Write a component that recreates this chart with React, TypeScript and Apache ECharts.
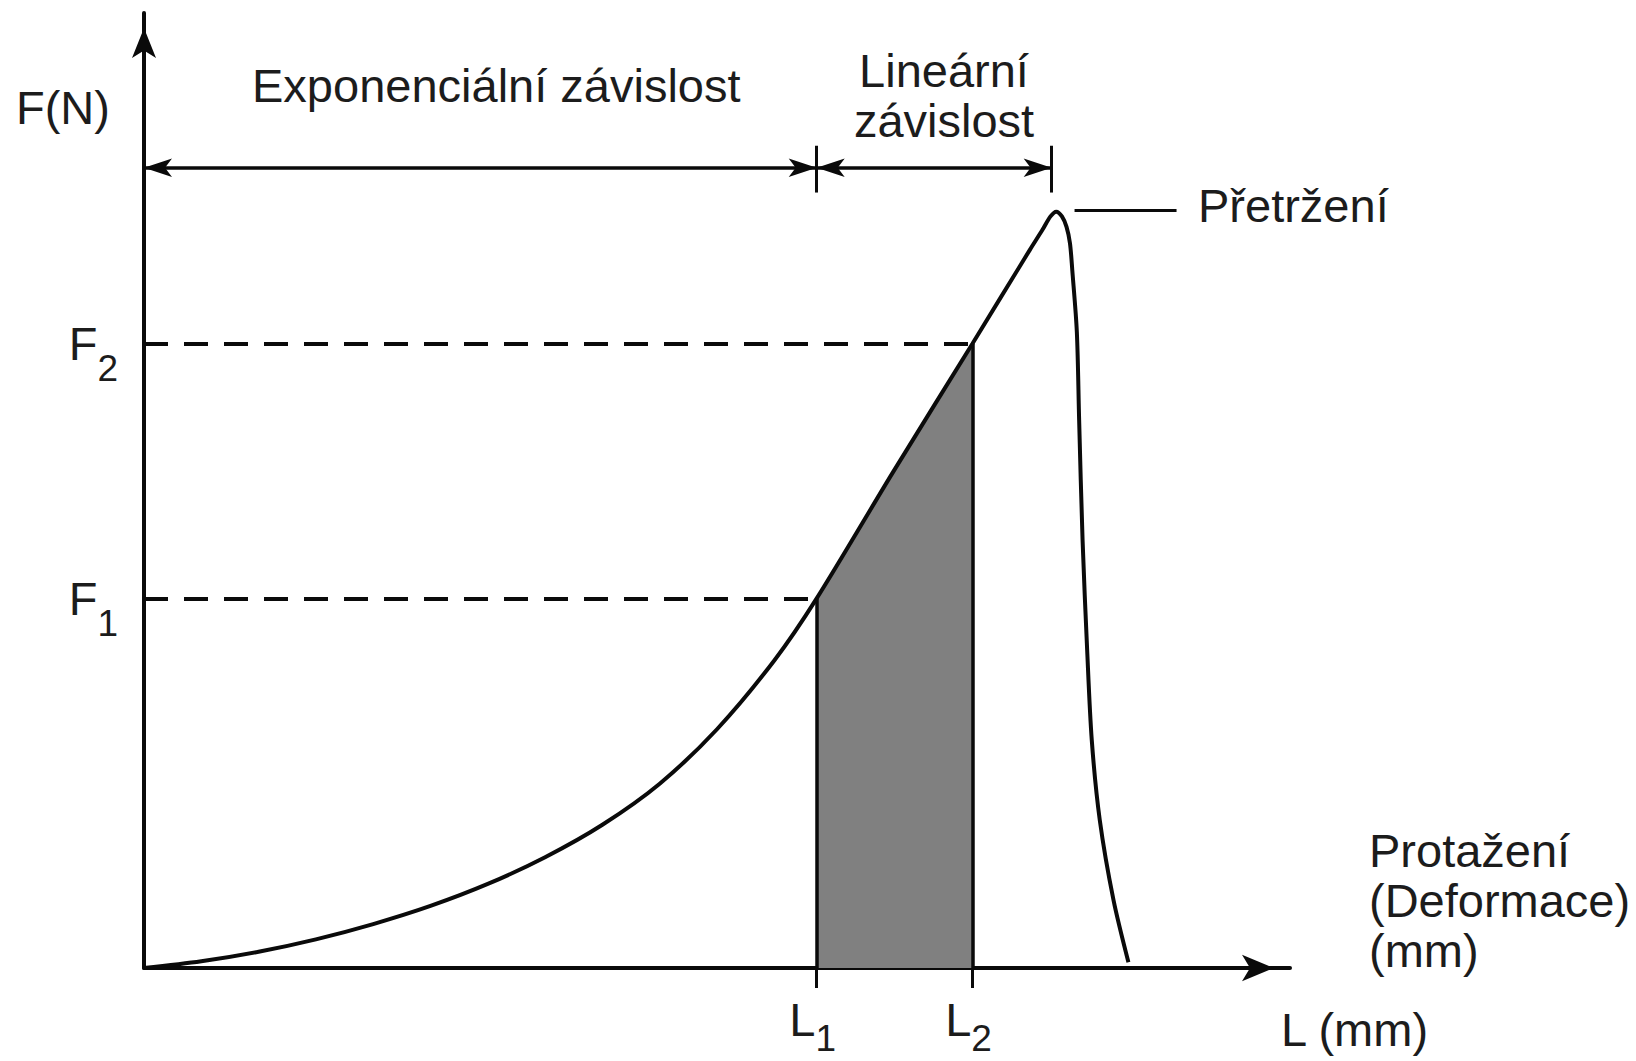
import React, { useEffect, useRef } from 'react';
import * as echarts from 'echarts';

// ---- data (abstract units: L 0..100, F 0..100) ----
const L1 = 58.7;
const L2 = 72.3;
const F1 = 38.7;
const F2 = 65.4;
const BREAK_X = 79.2; // end of linear region / rupture
const curveL = [0, 5, 10, 15, 20, 25, 30, 35, 40, 45, 50, 55, 58.7, 65.4, 72.3, 77.3, 78.4, 79.1, 79.6, 80.1, 80.5, 80.8, 81.0, 81.4, 81.6, 81.9, 82.3, 82.7, 83.4, 84.6, 85.9];
const curveF = [0, 0.7, 1.7, 3.0, 4.6, 6.5, 8.8, 11.6, 15.0, 19.3, 25.0, 32.2, 38.7, 52.0, 65.4, 75.2, 77.3, 78.7, 79.2, 78.7, 77.6, 75.9, 73.1, 66.6, 57.4, 44.8, 33.3, 23.9, 15.5, 7.1, 0.6];
const xTickValues = [L1, L2];
const xTickSubs = ['1', '2'];
const yTickValues = [F1, F2];
const yTickSubs = ['1', '2'];
const DIM_Y = 83.8;
const DIM_TICK_LOW = 81.2;
const DIM_TICK_HIGH = 86.1;
const LEADER_X0 = 81.2;
const LEADER_X1 = 90.1;
const LEADER_Y = 79.3;

const FONT = '"Liberation Sans", Arial, Helvetica, sans-serif';
const INK = '#0a0a0a';
const TXT = '#1c1c1c';
const FS = 47;

export default function App() {
  const ref = useRef<HTMLDivElement>(null);
  useEffect(() => {
    if (!ref.current) return;
    const chart = echarts.init(ref.current, null, { renderer: 'svg' });
    const curve = curveL.map((x, i) => [x, curveF[i]]);
    const solid = (w: number) => ({ color: INK, width: w, type: 'solid' });
    const dashed = { color: INK, width: 4, type: [24, 16] };
    const richX = {
      b: { fontSize: FS, lineHeight: FS, fontFamily: FONT, color: TXT },
      s: { fontSize: 37, lineHeight: 37, fontFamily: FONT, color: TXT, padding: [38, 8, 0, 0] },
    };
    const richY = {
      b: { fontSize: FS, lineHeight: FS, fontFamily: FONT, color: TXT },
      s: { fontSize: 37, lineHeight: 37, fontFamily: FONT, color: TXT, padding: [50, 0, 0, 0] },
    };
    const txt = (text: string, x: number, y: number, align = 'left', lh = 50) => ({
      type: 'text',
      x,
      y,
      silent: true,
      style: {
        text,
        font: `${FS}px ${FONT}`,
        fontSize: FS,
        fontFamily: FONT,
        fill: TXT,
        align,
        textAlign: align,
        verticalAlign: 'middle',
        textVerticalAlign: 'middle',
        lineHeight: lh,
      },
    });
    const option: any = {
      animation: false,
      backgroundColor: '#ffffff',
      grid: { left: 144, right: 346, top: 13, bottom: 93, containLabel: false, outerBoundsMode: 'none' },
      xAxis: {
        type: 'value',
        min: 0,
        max: 100,
        axisLine: {
          show: true,
          onZero: false,
          symbol: ['none', 'arrow'],
          symbolSize: [20, 32],
          symbolOffset: [0, -16],
          lineStyle: { color: INK, width: 4 },
        },
        axisTick: { show: true, customValues: xTickValues, length: 20, lineStyle: { color: INK, width: 3 } },
        axisLabel: {
          show: true,
          customValues: xTickValues,
          margin: 28,
          formatter: (v: number) => {
            const i = xTickValues.findIndex((t) => Math.abs(t - v) < 1e-6);
            return `{b|L}{s|${xTickSubs[i < 0 ? 0 : i]}}`;
          },
          rich: richX,
        },
        splitLine: { show: false },
      },
      yAxis: {
        type: 'value',
        min: 0,
        max: 100,
        axisLine: {
          show: true,
          onZero: false,
          symbol: ['none', 'arrow'],
          symbolSize: [18, 30],
          symbolOffset: [0, -15],
          lineStyle: { color: INK, width: 4 },
        },
        axisTick: { show: false },
        axisLabel: {
          show: true,
          customValues: yTickValues,
          margin: 26,
          formatter: (v: number) => {
            const i = yTickValues.findIndex((t) => Math.abs(t - v) < 1e-6);
            return `{b|F}{s|${yTickSubs[i < 0 ? 0 : i]}}`;
          },
          rich: richY,
        },
        splitLine: { show: false },
      },
      series: [
        {
          type: 'line',
          name: 'area',
          data: [[L1, F1], [L2, F2]],
          symbol: 'none',
          lineStyle: { width: 0 },
          areaStyle: { color: '#808080', opacity: 1 },
          z: 1,
          silent: true,
          markLine: {
            silent: true,
            symbol: 'none',
            label: { show: false },
            data: [
              [{ coord: [0, F1], lineStyle: dashed }, { coord: [L1, F1] }],
              [{ coord: [0, F2], lineStyle: dashed }, { coord: [L2, F2] }],
              [{ coord: [L1, 0], lineStyle: solid(3.5) }, { coord: [L1, F1] }],
              [{ coord: [L2, 0], lineStyle: solid(3.5) }, { coord: [L2, F2] }],
              [
                { coord: [0, DIM_Y], lineStyle: solid(3.5), symbol: 'arrow', symbolSize: [14, 28] },
                { coord: [L1, DIM_Y], symbol: 'arrow', symbolSize: [14, 28] },
              ],
              [
                { coord: [L1, DIM_Y], lineStyle: solid(3.5), symbol: 'arrow', symbolSize: [14, 28] },
                { coord: [BREAK_X, DIM_Y], symbol: 'arrow', symbolSize: [14, 28] },
              ],
              [{ coord: [L1, DIM_TICK_LOW], lineStyle: solid(3) }, { coord: [L1, DIM_TICK_HIGH] }],
              [{ coord: [BREAK_X, DIM_TICK_LOW], lineStyle: solid(3) }, { coord: [BREAK_X, DIM_TICK_HIGH] }],
              [{ coord: [LEADER_X0, LEADER_Y], lineStyle: solid(3) }, { coord: [LEADER_X1, LEADER_Y] }],
            ],
          },
        },
        {
          type: 'line',
          name: 'curve',
          data: curve,
          symbol: 'none',
          smooth: 0.3,
          lineStyle: { color: INK, width: 4 },
          z: 3,
          silent: true,
        },
      ],
      graphic: [
        txt('F(N)', 16, 107),
        txt('Exponenciální závislost', 252, 85),
        txt('Lineární\nzávislost', 944, 95, 'center'),
        txt('Přetržení', 1198, 205),
        txt('Protažení\n(Deformace)\n(mm)', 1369, 900),
        txt('L (mm)', 1281, 1029),
      ],
    };
    chart.setOption(option);
    return () => chart.dispose();
  }, []);
  return (
    <div
      ref={ref}
      style={{ position: 'absolute', left: 0, top: 0, width: 1636, height: 1061, background: '#fff' }}
    />
  );
}
